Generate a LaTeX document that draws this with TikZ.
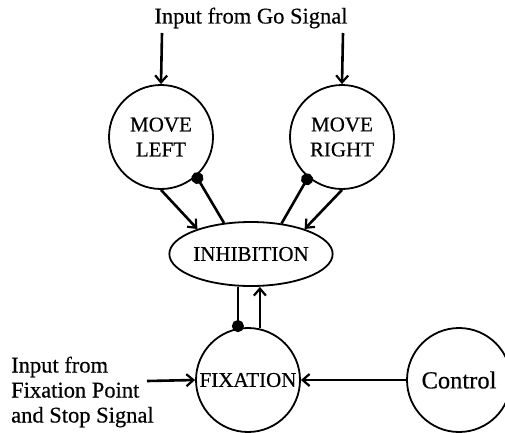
\documentclass[tikz,border=0pt]{standalone}
\usepackage{fontspec}
\setmainfont{Liberation Serif}[FakeBold=0.4]
\usetikzlibrary{arrows.meta,shapes.geometric}
\begin{document}
\begin{tikzpicture}[x=1pt,y=-1pt,
  unit/.style={circle,draw,line width=1.8pt,minimum size=104pt,inner sep=0pt,align=center,font=\fontsize{21}{25}\selectfont},
  lbl/.style={font=\fontsize{22.5}{25}\selectfont,inner sep=0pt},
  exc/.style={line width=2.6pt,-{Straight Barb[length=7pt,width=12pt,line width=2.2pt]}},
  inh/.style={line width=2.6pt,-{Circle[length=12pt]},shorten >=-4pt}]
\clip (0,0) rectangle (505,432);
\fill[white] (0,0) rectangle (505,432);
\node[lbl] (title) at (251,18) {Input from Go Signal};
\node[unit] (ml) at (161,137) {MOVE\\LEFT};
\node[unit] (mr) at (342,137) {MOVE\\RIGHT};
\node[ellipse,draw,line width=1.8pt,minimum width=144pt,minimum height=64pt,inner sep=0pt,font=\fontsize{21}{25}\selectfont] (inb) at (251,254) {INHIBITION};
\node[unit] (fix) at (248,380) {FIXATION};
\node[unit,font=\fontsize{24.5}{25}\selectfont] (ctrl) at (459,380) {Control};
\node[lbl,align=left,anchor=west] (fixtxt) at (11,392) {Input from\\Fixation Point\\and Stop Signal};
\coordinate (goL) at (162,33);
\coordinate (goR) at (343,33);
\coordinate (fixin) at (147,381);
\draw[exc] (goL) -- (ml.north);
\draw[exc] (goR) -- (mr.north);
\draw[exc] (ml.-90) -- (inb.155);
\draw[inh] (inb.131) -- (ml.-48);
\draw[exc] (mr.-90) -- (inb.25);
\draw[inh] (inb.45) -- (mr.-130);
\draw[inh] (fix.101 |- inb.south) -- (fix.101);
\draw[exc] (fix.77) -- (fix.77 |- inb.south);
\draw[exc] (ctrl.west) -- (fix.east);
\draw[exc] (fixin) -- (fix.west);
\end{tikzpicture}
\end{document}
